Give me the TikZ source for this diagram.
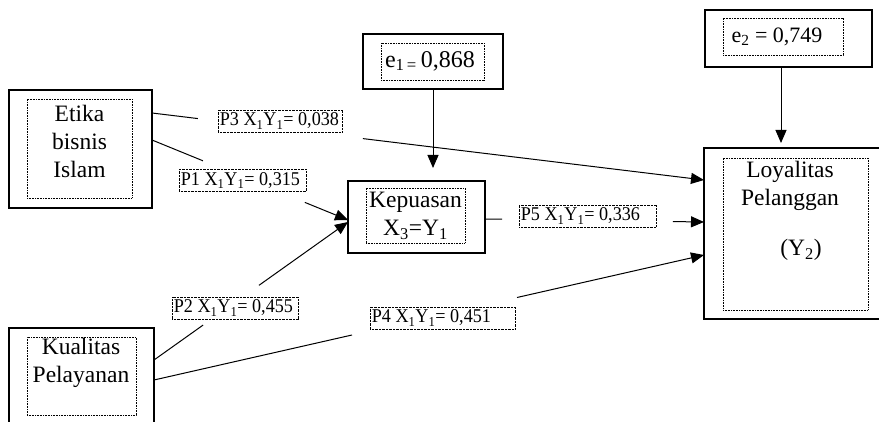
\documentclass[tikz,border=0pt]{standalone}
\usepackage{fontspec}
\setmainfont{Liberation Serif}
\newfontfamily\lblfont[FakeStretch=0.93]{Liberation Serif}
\usetikzlibrary{arrows.meta,calc}
\begin{document}
\begin{tikzpicture}[x=1pt,y=-1pt,
 outer/.style={draw, line width=1.1pt, inner sep=0pt, outer sep=0pt},
 inner/.style={draw, line width=0.8pt, dash pattern=on 0.8pt off 0.8pt, inner sep=0pt},
 maintext/.style={font=\fontsize{23.5}{28}\selectfont, align=center, inner sep=0pt},
 lbl/.style={draw, line width=0.7pt, dash pattern=on 0.7pt off 0.7pt, inner xsep=1.5pt, inner ysep=0pt, minimum height=22pt, font=\lblfont\fontsize{19.5}{20}\selectfont, anchor=west},
 conn/.style={line width=1pt},
 arr/.style={conn, -{Triangle[length=13pt,width=11pt]}}
]
\clip (0,0) rectangle (879,422);
\fill[white] (0,0) rectangle (879,422);

% Etika bisnis Islam
\node[outer, minimum width=143pt, minimum height=118pt] (etika) at (80.5,149) {};
\node[inner, minimum width=105pt, minimum height=99pt] (etikain) at (79.5,148.5) {};
\node[maintext] (etikat) at (79.5,141.5) {Etika\\bisnis\\Islam};

% Kualitas Pelayanan
\node[outer, minimum width=145pt, minimum height=130pt] (kual) at (81.5,393) {};
\node[inner, minimum width=109pt, minimum height=78pt] (kualin) at (81.5,376) {};
\node[maintext] (kualt) at (81,363) {Kualitas\\Pelayanan};

% Kepuasan
\node[outer, minimum width=137pt, minimum height=72pt] (kep) at (416.5,217) {};
\node[inner, minimum width=99pt, minimum height=55pt] (kepin) at (415.5,215.5) {};
\node[maintext] (kept) at (415.5,216) {Kepuasan\\X\textsubscript{3}=Y\textsubscript{1}};

% e1
\node[outer, minimum width=140pt, minimum height=55pt] (eone) at (433,61.5) {};
\node[inner, minimum width=103pt, minimum height=37pt] (eonein) at (432.5,61.5) {};
\node[font=\fontsize{24}{28}\selectfont, inner sep=0pt] (eonet) at (430,61) {e\textsubscript{1\,=}\,0,868};

% e2
\node[outer, minimum width=167pt, minimum height=57pt] (etwo) at (788.5,38.5) {};
\node[inner, minimum width=120pt, minimum height=37pt] (etwoin) at (783,36.5) {};
\node[font=\fontsize{22}{26}\selectfont, inner sep=0pt] (etwot) at (777,36.5) {e\textsubscript{2} = 0,749};

% Loyalitas Pelanggan
\node[outer, minimum width=191pt, minimum height=171pt] (loy) at (799.5,233.5) {};
\node[inner, minimum width=145pt, minimum height=152pt] (loyin) at (795.5,234) {};
\node[maintext] (loyt) at (790,186) {Loyalitas\\Pelanggan};
\node[maintext] (loyy) at (801,250) {(Y\textsubscript{2})};

% connector end points
\coordinate (a3) at (etika.east |- 0,113);
\coordinate (b3) at (loy.west |- 0,180);
\coordinate (a1) at (etika.east |- 0,140);
\coordinate (b1) at (kep.west |- 0,220);
\coordinate (a2) at (kual.east |- 0,360);
\coordinate (b2) at (kep.west |- 0,222);
\coordinate (a4) at (kual.east |- 0,380);
\coordinate (b4) at (loy.west |- 0,255);
\coordinate (a5) at (kep.east |- 0,219);
\coordinate (b5) at (loy.west |- 0,222);

% P3
\draw[conn] (a3) -- ($(a3)!0.083!(b3)$);
\draw[arr] ($(a3)!0.382!(b3)$) -- (b3);
\node[lbl] (l3) at (218,121) {\makebox[121pt][l]{P3 X\textsubscript{1}Y\textsubscript{1}= 0,038}};
% P1
\draw[conn] (a1) -- ($(a1)!0.26!(b1)$);
\draw[arr] ($(a1)!0.78!(b1)$) -- (b1);
\node[lbl] (l1) at (179,180.5) {\makebox[124pt][l]{P1 X\textsubscript{1}Y\textsubscript{1}= 0,315}};
% P2
\draw[conn] (a2) -- ($(a2)!0.253!(b2)$);
\draw[arr] ($(a2)!0.541!(b2)$) -- (b2);
\node[lbl] (l2) at (172,308) {\makebox[123pt][l]{P2 X\textsubscript{1}Y\textsubscript{1}= 0,455}};
% P4
\draw[conn] (a4) -- ($(a4)!0.36!(b4)$);
\draw[arr] ($(a4)!0.66!(b4)$) -- (b4);
\node[lbl] (l4) at (370,318) {\makebox[142pt][l]{P4 X\textsubscript{1}Y\textsubscript{1}= 0,451}};
% P5
\draw[conn] (a5) -- ($(a5)!0.078!(b5)$);
\draw[arr] ($(a5)!0.858!(b5)$) -- (b5);
\node[lbl] (l5) at (519,216) {\makebox[134pt][l]{P5 X\textsubscript{1}Y\textsubscript{1}= 0,336}};

% error arrows
\draw[arr, shorten >=13pt] (eone.south) -- (eone.south |- kep.north);
\coordinate (e2s) at ($(etwo.south)+(-7.5,0)$);
\draw[arr, shorten >=5pt] (e2s) -- (e2s |- loy.north);
\end{tikzpicture}
\end{document}
